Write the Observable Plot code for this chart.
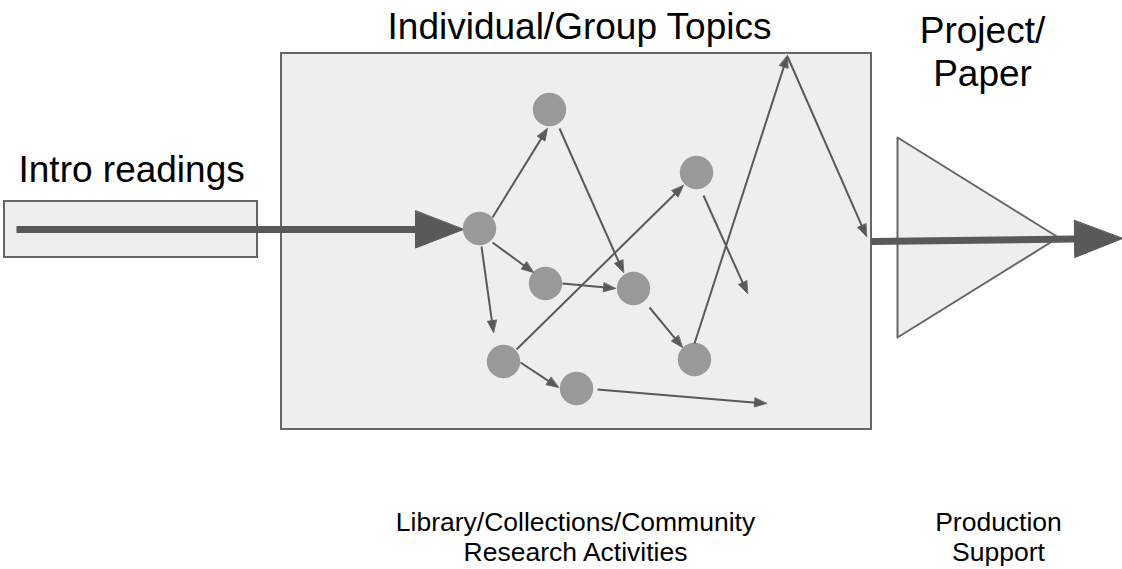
<!DOCTYPE html>
<html><head><meta charset="utf-8">
<script src="https://cdn.jsdelivr.net/npm/d3@7"></script>
<script src="https://cdn.jsdelivr.net/npm/@observablehq/plot@0.6"></script>
<style>body{margin:0;background:#fff;}</style>
</head><body><div id="chart"></div>
<script>
// ---- Diagram data ----
// Topic nodes (circles)
const nodeNames = ["A", "B", "C", "D", "E", "F", "G", "H"];
const nodeX = [479, 549, 545, 633, 696, 503, 576, 694];
const nodeY = [228, 109, 283, 288, 172, 361, 388, 359];

// Thin arrows between topics (start -> tip)
const edgeX1 = [492, 559, 492, 562, 481, 516, 520, 597, 649, 703, 694, 787];
const edgeY1 = [217, 128, 242, 283, 246, 349, 362, 389, 307, 195, 343, 56];
const edgeX2 = [547, 623, 533, 615, 493, 683, 558, 766, 682, 747, 787, 866];
const edgeY2 = [128, 272, 272, 288, 332, 185, 387, 403, 347, 293, 55, 236];

// Thick flow arrows
const flowX1 = [16, 871];
const flowY1 = [229, 241];
const flowX2 = [463, 1122];
const flowY2 = [229, 238];

// Boxes
const boxNames = ["Intro readings", "Individual/Group Topics"];
const boxX1 = [4, 281];
const boxX2 = [257, 871];
const boxY1 = [201, 53];
const boxY2 = [257, 429];

// Project/Paper triangle
const triX = [897, 1058, 897];
const triY = [137, 237, 337];

// Labels
const bigLabels = ["Individual/Group Topics", "Project/\nPaper"];
const bigLabelX = [579, 982];
const bigLabelY = [38.5, 85];
const introLabel = ["Intro readings"];
const introLabelX = [18];
const introLabelY = [181.5];
const smallLabels = ["Library/Collections/Community\nResearch Activities", "Production\nSupport"];
const smallLabelX = [575, 998];
const smallLabelY = [560, 560];

// ---- Build tables ----
const nodes = nodeNames.map((n, i) => ({name: n, x: nodeX[i], y: nodeY[i]}));
const boxes = boxNames.map((n, i) => ({name: n, x1: boxX1[i], x2: boxX2[i], y1: boxY1[i], y2: boxY2[i]}));
const tri = triX.map((x, i) => ({x, y: triY[i]}));

function arrowParts(x1s, y1s, x2s, y2s, L, W, prefix) {
  const lines = [], heads = [];
  x1s.forEach((x1, i) => {
    const y1 = y1s[i], x2 = x2s[i], y2 = y2s[i];
    const dx = x2 - x1, dy = y2 - y1, len = Math.hypot(dx, dy);
    const ux = dx / len, uy = dy / len, px = -uy, py = ux;
    const bx = x2 - ux * L, by = y2 - uy * L;
    lines.push({x1, y1, x2: x2 - ux * L * 0.6, y2: y2 - uy * L * 0.6});
    const id = prefix + i;
    heads.push({id, x: x2, y: y2});
    heads.push({id, x: bx + px * W, y: by + py * W});
    heads.push({id, x: bx - px * W, y: by - py * W});
  });
  return {lines, heads};
}
const thin = arrowParts(edgeX1, edgeY1, edgeX2, edgeY2, 12, 4.5, "t");
const thick = arrowParts(flowX1, flowY1, flowX2, flowY2, 48, 18.5, "f");

const ARROW = "#595959";
const font = "'Liberation Sans', Arial, Helvetica, sans-serif";

const chart = Plot.plot({
  width: 1122,
  height: 569,
  margin: 0,
  x: {domain: [0, 1122], range: [0, 1122], axis: null},
  y: {domain: [0, 569], range: [0, 569], axis: null},
  style: {fontFamily: font, background: "white", color: "black"},
  marks: [
    Plot.rect(boxes, {x1: "x1", x2: "x2", y1: "y1", y2: "y2", fill: "#eeeeee", stroke: "#666666", strokeWidth: 2}),
    Plot.line(tri, {x: "x", y: "y", curve: "linear-closed", fill: "#eeeeee", stroke: "#666666", strokeWidth: 2}),
    Plot.link(thick.lines, {x1: "x1", y1: "y1", x2: "x2", y2: "y2", stroke: ARROW, strokeWidth: 7}),
    Plot.line(thick.heads, {x: "x", y: "y", z: "id", curve: "linear-closed", fill: ARROW, stroke: ARROW, strokeWidth: 1}),
    Plot.dot(nodes, {x: "x", y: "y", r: 16.7, fill: "#999999", stroke: null}),
    Plot.link(thin.lines, {x1: "x1", y1: "y1", x2: "x2", y2: "y2", stroke: ARROW, strokeWidth: 2}),
    Plot.line(thin.heads, {x: "x", y: "y", z: "id", curve: "linear-closed", fill: ARROW, stroke: ARROW, strokeWidth: 0.8}),
    Plot.text(bigLabels.map((t, i) => ({t, x: bigLabelX[i], y: bigLabelY[i]})),
      {x: "x", y: "y", text: "t", textAnchor: "middle", lineAnchor: "bottom", lineHeight: 1.15, fontSize: 37, fill: "black"}),
    Plot.text(introLabel.map((t, i) => ({t, x: introLabelX[i], y: introLabelY[i]})),
      {x: "x", y: "y", text: "t", textAnchor: "start", lineAnchor: "bottom", fontSize: 37, fill: "black"}),
    Plot.text(smallLabels.map((t, i) => ({t, x: smallLabelX[i], y: smallLabelY[i]})),
      {x: "x", y: "y", text: "t", textAnchor: "middle", lineAnchor: "bottom", lineHeight: 1.13, fontSize: 26.5, fill: "black"})
  ]
});
document.getElementById("chart").appendChild(chart);
</script>
</body></html>
